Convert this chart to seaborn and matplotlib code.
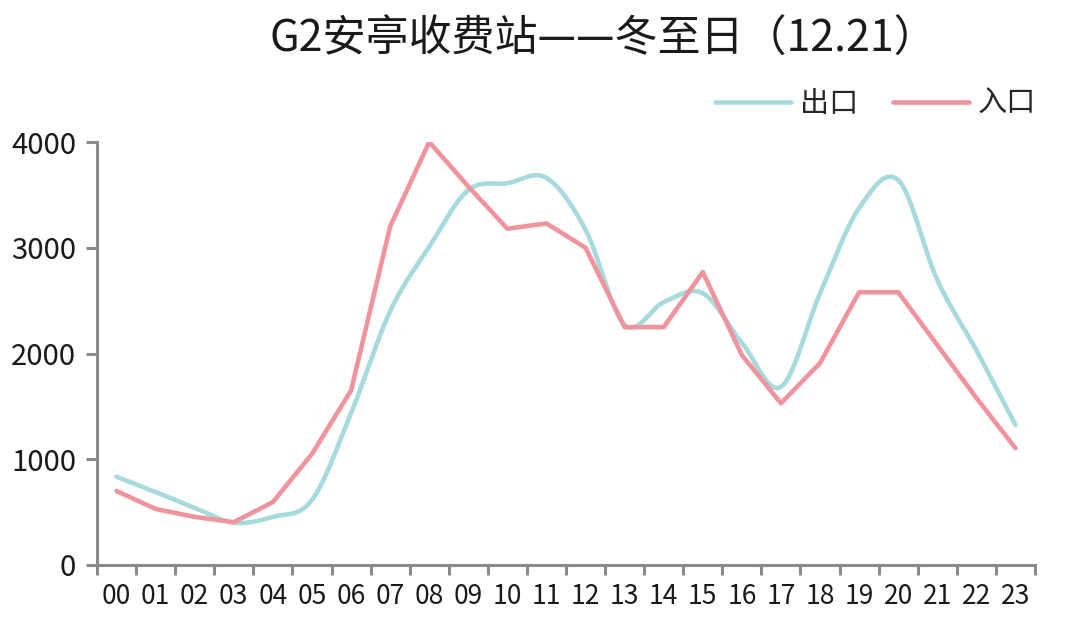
import numpy as np
import pandas as pd
import matplotlib
matplotlib.use("Agg")
import matplotlib.pyplot as plt
import seaborn as sns

# ==========================================
# DATA
# ==========================================

hours = ["00", "01", "02", "03", "04", "05", "06", "07", "08", "09", "10", "11",
         "12", "13", "14", "15", "16", "17", "18", "19", "20", "21", "22", "23"]

exit_flow = [835, 690, 540, 400, 455, 615, 1435, 2400, 3010, 3545, 3610, 3660,
             3170, 2270, 2485, 2570, 2100, 1685, 2570, 3375, 3640, 2695, 2030, 1325]

entry_flow = [700, 530, 455, 405, 595, 1050, 1650, 3200, 4000, 3580, 3180, 3230,
              3000, 2250, 2250, 2770, 1985, 1530, 1910, 2580, 2580, 2080, 1580, 1105]

exit_color = "#a6dadd"
entry_color = "#f0939c"

# ==========================================
# STYLE
# ==========================================

sns.set_theme(style="white")
plt.rcParams["font.family"] = ["Noto Sans CJK SC", "DejaVu Sans"]

fig = plt.figure(figsize=(10.8, 6.44), dpi=100)
ax = fig.add_axes([97 / 1080, 1 - 565 / 644, (1035 - 97) / 1080, (565 - 142) / 644])

# ==========================================
# SMOOTH CURVE FOR EXIT (rendering only)
# ==========================================

def smooth_curve(y, steps=30):
    y = np.asarray(y, dtype=float)
    n = len(y)
    m = np.zeros(n)
    m[1:-1] = (y[2:] - y[:-2]) / 2
    m[0] = y[1] - y[0]
    m[-1] = y[-1] - y[-2]
    xs, ys = [], []
    for i in range(n - 1):
        t = np.linspace(0, 1, steps, endpoint=False)
        h00 = 2 * t**3 - 3 * t**2 + 1
        h10 = t**3 - 2 * t**2 + t
        h01 = -2 * t**3 + 3 * t**2
        h11 = t**3 - t**2
        ys.append(h00 * y[i] + h10 * m[i] + h01 * y[i + 1] + h11 * m[i + 1])
        xs.append(i + t)
    xs.append([n - 1])
    ys.append([y[-1]])
    return np.concatenate(xs), np.concatenate(ys)

sx, sy = smooth_curve(exit_flow)
exit_df = pd.DataFrame({"x": sx, "y": sy})
entry_df = pd.DataFrame({"x": np.arange(len(hours)), "y": entry_flow})

sns.lineplot(data=exit_df, x="x", y="y", ax=ax, color=exit_color,
             linewidth=3.3, sort=False, label="出口")
sns.lineplot(data=entry_df, x="x", y="y", ax=ax, color=entry_color,
             linewidth=3.3, sort=False, label="入口")

# ==========================================
# AXES
# ==========================================

ax.set_xlim(-0.5, len(hours) - 0.5)
ax.set_ylim(0, 4000)
ax.set_xlabel("")
ax.set_ylabel("")

ax.set_xticks(np.arange(len(hours)))
ax.set_xticklabels(hours)
ax.set_xticks(np.arange(len(hours) + 1) - 0.5, minor=True)
ax.set_yticks([0, 1000, 2000, 3000, 4000])

axis_color = "#8a8a8a"
label_color = "#1a1a1a"
for side in ["top", "right"]:
    ax.spines[side].set_visible(False)
for side in ["left", "bottom"]:
    ax.spines[side].set_color(axis_color)
    ax.spines[side].set_linewidth(2.2)

ax.tick_params(axis="x", which="major", bottom=True, length=0, pad=13,
               labelsize=19, labelcolor=label_color)
ax.tick_params(axis="x", which="minor", bottom=True, length=7, width=2.2,
               color=axis_color, direction="out")
ax.tick_params(axis="y", which="major", left=True, length=8, width=2.2,
               color=axis_color, direction="out", pad=7,
               labelsize=21, labelcolor=label_color)
ax.grid(False)

# ==========================================
# TITLE & LEGEND
# ==========================================

fig.text(603 / 1080, 1 - 40 / 644, "G2安亭收费站——冬至日（12.21）",
         ha="center", va="center", fontsize=31, color=label_color)

ax.legend(loc="center right", bbox_to_anchor=(1036 / 1080, 1 - 104 / 644),
          bbox_transform=fig.transFigure, ncol=2, frameon=False, fontsize=21,
          handlelength=2.6, handletextpad=0.3, columnspacing=1.2,
          borderaxespad=0, borderpad=0)

fig.savefig("out.png", dpi=100)
